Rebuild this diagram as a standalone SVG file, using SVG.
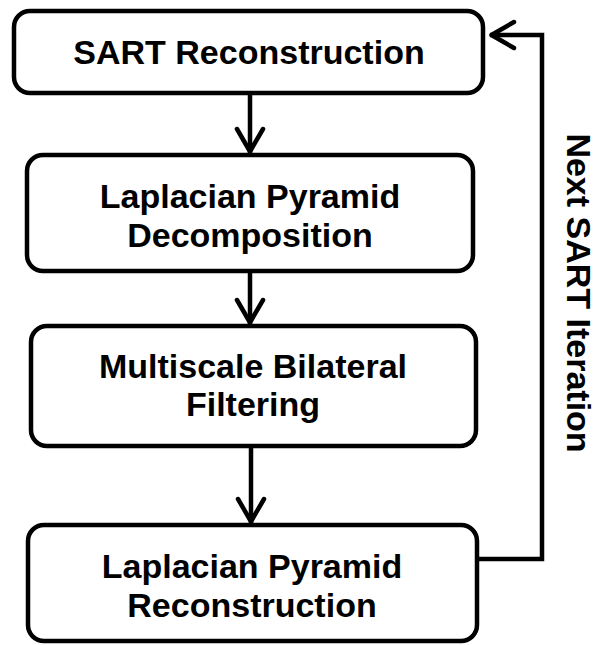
<svg xmlns="http://www.w3.org/2000/svg" width="605" height="645" viewBox="0 0 605 645">
  <style>
    .box { fill: #ffffff; stroke: #000000; stroke-width: 4.5; }
    .label { font-family: "Liberation Sans", Arial, sans-serif; font-weight: bold; font-size: 34px; fill: #000000; text-anchor: middle; }
    .wire { fill: none; stroke: #000000; stroke-width: 4.5; stroke-linejoin: miter; }
  </style>
  <defs>
    <marker id="chevron" viewBox="-30 -18 34 36" markerWidth="34" markerHeight="36" refX="0" refY="0" orient="auto" markerUnits="userSpaceOnUse">
      <path d="M-24,-13 L-1.5,0 L-24,13" fill="none" stroke="#000000" stroke-width="4.5" stroke-linecap="round" stroke-linejoin="round"/>
    </marker>
  </defs>
  <rect width="605" height="645" fill="#ffffff"/>

  <g id="connectors">
    <line class="wire" x1="250" y1="95" x2="250" y2="153" marker-end="url(#chevron)"/>
    <line class="wire" x1="250" y1="273" x2="250" y2="324" marker-end="url(#chevron)"/>
    <line class="wire" x1="251" y1="448" x2="251" y2="523" marker-end="url(#chevron)"/>
    <path class="wire" d="M479,559 H542 V35 H490" marker-end="url(#chevron)"/>
  </g>

  <g id="sart-reconstruction">
    <rect class="box" x="14" y="11" width="469" height="82" rx="16"/>
    <text class="label" x="249" y="64">SART Reconstruction</text>
  </g>

  <g id="pyramid-decomposition">
    <rect class="box" x="27" y="155" width="446" height="116" rx="16"/>
    <text class="label" x="250" y="208">Laplacian Pyramid</text>
    <text class="label" x="250" y="247">Decomposition</text>
  </g>

  <g id="bilateral-filtering">
    <rect class="box" x="31" y="326" width="445" height="120" rx="16"/>
    <text class="label" x="253" y="378">Multiscale Bilateral</text>
    <text class="label" x="253" y="416">Filtering</text>
  </g>

  <g id="pyramid-reconstruction">
    <rect class="box" x="28" y="525" width="449" height="116" rx="16"/>
    <text class="label" x="252" y="578">Laplacian Pyramid</text>
    <text class="label" x="252" y="617">Reconstruction</text>
  </g>

  <g id="iteration-label">
    <text class="label" transform="translate(567,293) rotate(90)" x="0" y="0">Next SART Iteration</text>
  </g>
</svg>
